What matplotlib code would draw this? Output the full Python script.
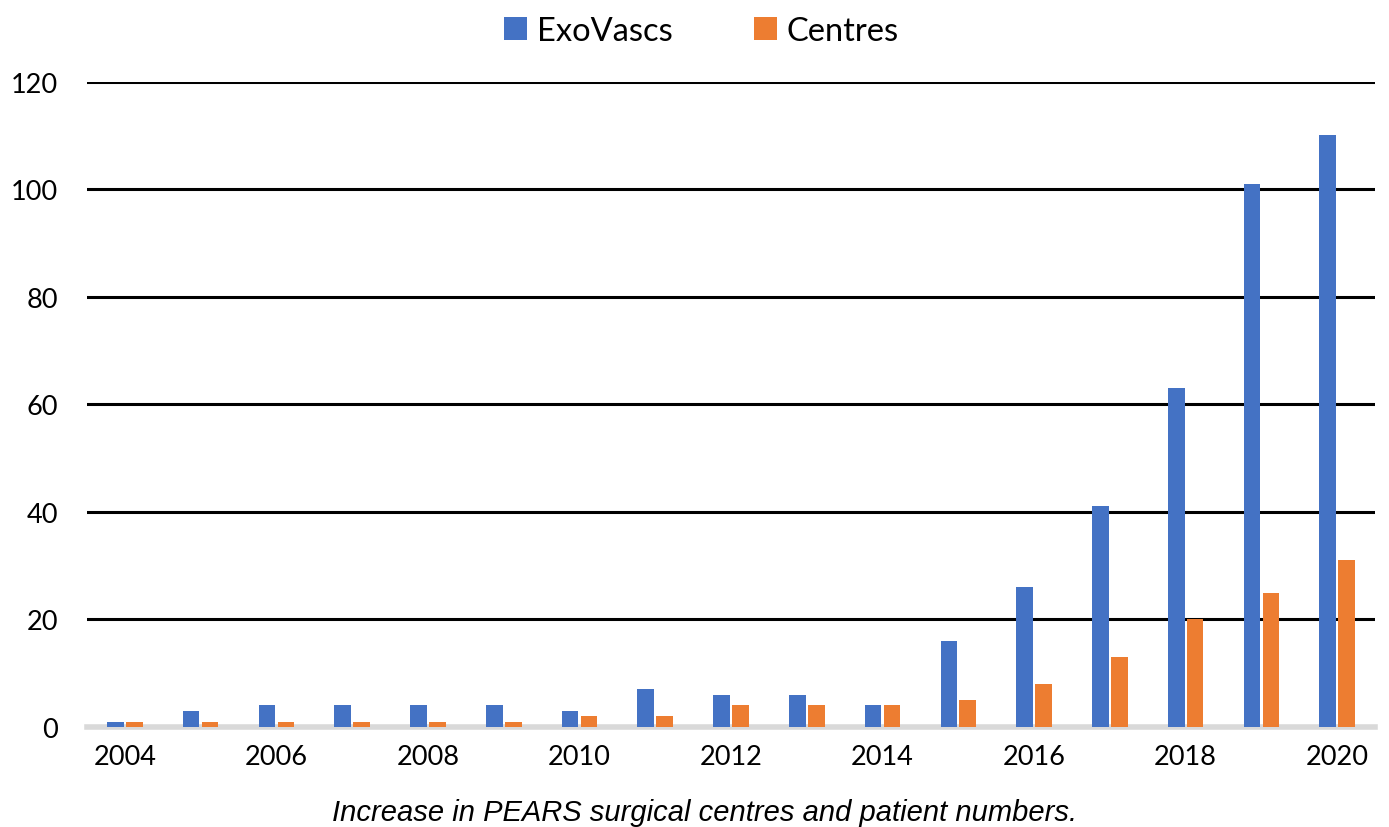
import matplotlib.pyplot as plt
import numpy as np

years = list(range(2004, 2021))
exovascs = [1, 3, 4, 4, 4, 4, 3, 7, 6, 6, 4, 16, 26, 41, 63, 101, 110]
centres = [1, 1, 1, 1, 1, 1, 2, 2, 4, 4, 4, 5, 8, 13, 20, 25, 31]
tick_years = [2004, 2006, 2008, 2010, 2012, 2014, 2016, 2018, 2020]

plt.rcParams["font.family"] = ["Lato", "DejaVu Sans"]

fig = plt.figure(figsize=(13.89, 8.28), dpi=100)
ax = fig.add_axes([0.0626, 0.1208, 0.9274, 0.7794])

x = np.arange(len(years))
w = 0.22
ax.bar(x - 0.125, exovascs, w, color="#4472C4", label="ExoVascs", zorder=3)
ax.bar(x + 0.125, centres, w, color="#ED7D31", label="Centres", zorder=3)

ax.set_xlim(-0.5, len(years) - 0.5)
ax.set_ylim(0, 120)
ax.set_yticks(range(0, 121, 20))
ax.yaxis.grid(True, color="black", linewidth=2.2, zorder=0)
ax.set_xticks([years.index(y) for y in tick_years])
ax.set_xticklabels([str(y) for y in tick_years])
ax.tick_params(length=0, labelsize=19.5, pad=12)
ax.tick_params(axis="y", pad=21)
for s in ["top", "right", "left"]:
    ax.spines[s].set_visible(False)
ax.spines["bottom"].set_color("#D9D9D9")
ax.spines["bottom"].set_linewidth(4)

fig.legend(loc="upper center", bbox_to_anchor=(0.505, 1.015), ncol=2, frameon=False,
           fontsize=23.5, handlelength=0.7, handleheight=0.7, columnspacing=2.5, handletextpad=0.3)
fig.text(0.507, 0.008, "Increase in PEARS surgical centres and patient numbers.",
         ha="center", fontsize=21, style="italic", family=["Liberation Sans", "DejaVu Sans"])

fig.savefig("out.png", dpi=100)
